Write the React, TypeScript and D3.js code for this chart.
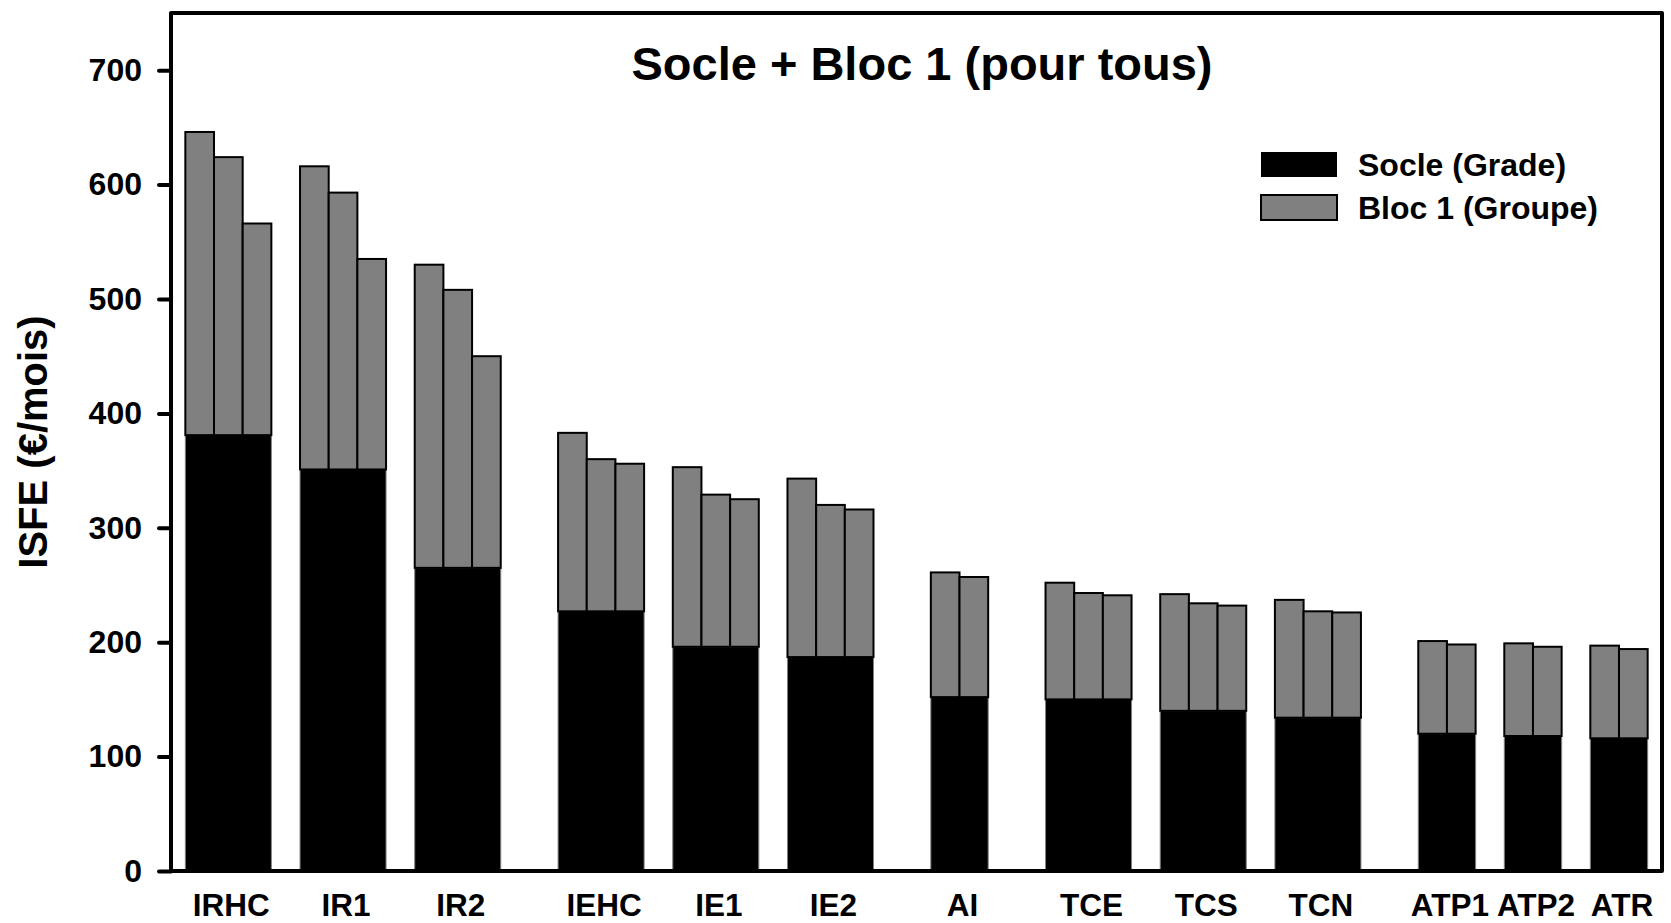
import React, { useEffect, useRef } from "react";
import * as d3 from "d3";

const groups = ["IRHC", "IR1", "IR2", "IEHC", "IE1", "IE2", "AI", "TCE", "TCS", "TCN", "ATP1", "ATP2", "ATR"];
const families = ["IR", "IR", "IR", "IE", "IE", "IE", "AI", "TC", "TC", "TC", "AT", "AT", "AT"];
// Socle (Grade) : one value per group, shared by its bars
const socle = [381, 351, 265, 227, 196, 187, 152, 150, 140, 134, 120, 118, 116];
// Bloc 1 (Groupe) : stacked on the socle, one value per bar
const bloc1 = [
  [265, 243, 185],
  [265, 242, 184],
  [265, 243, 185],
  [156, 133, 129],
  [157, 133, 129],
  [156, 133, 129],
  [109, 105],
  [102, 93, 91],
  [102, 94, 92],
  [103, 93, 92],
  [81, 78],
  [81, 78],
  [81, 78],
];
const yTicks = [0, 100, 200, 300, 400, 500, 600, 700];
const seriesNames = ["Socle (Grade)", "Bloc 1 (Groupe)"];
const title = "Socle + Bloc 1 (pour tous)";
const yLabel = "ISFE (€/mois)";

const W = 1671, H = 923;
const frame = { left: 171, right: 1662, top: 13, bottom: 871 };
const FONT = "'Liberation Sans', Arial, Helvetica, sans-serif";
const GREY = "#808080";

function App() {
  const ref = useRef(null);

  useEffect(() => {
    const svg = d3.select(ref.current);
    svg.selectAll("*").remove();

    // one band per bar, plus empty bands between groups (two between families)
    const slots = [];
    const bars = [];
    const groupSpans = [];
    groups.forEach((g, i) => {
      if (i > 0) {
        const gaps = families[i] === families[i - 1] ? 1 : 2;
        for (let k = 0; k < gaps; k++) slots.push(`gap-${i}-${k}`);
      }
      const keys = [];
      bloc1[i].forEach((b, j) => {
        const key = `${g}-${j}`;
        slots.push(key);
        keys.push(key);
        bars.push({ key, socle: socle[i], bloc: b });
      });
      groupSpans.push({ name: g, first: keys[0], last: keys[keys.length - 1], socle: socle[i] });
    });

    const x = d3.scaleBand().domain(slots).range([frame.left, frame.right]).paddingInner(0).paddingOuter(0.5);
    const y = d3.scaleLinear().domain([0, 750]).range([frame.bottom, frame.top]);
    const bw = x.bandwidth();

    // socle, drawn per group
    svg.append("g").selectAll("rect")
      .data(groupSpans)
      .enter()
      .append("rect")
      .attr("x", d => x(d.first))
      .attr("width", d => x(d.last) + bw - x(d.first))
      .attr("y", d => y(d.socle))
      .attr("height", d => y(0) - y(d.socle))
      .attr("fill", "#000")
      .attr("stroke", GREY)
      .attr("stroke-width", 1);

    // bloc 1 on top
    svg.append("g").selectAll("rect")
      .data(bars)
      .enter()
      .append("rect")
      .attr("x", d => x(d.key))
      .attr("width", bw)
      .attr("y", d => y(d.socle + d.bloc))
      .attr("height", d => y(d.socle) - y(d.socle + d.bloc))
      .attr("fill", GREY)
      .attr("stroke", "#000")
      .attr("stroke-width", 2);

    // frame
    svg.append("rect")
      .attr("x", frame.left)
      .attr("y", frame.top)
      .attr("width", frame.right - frame.left)
      .attr("height", frame.bottom - frame.top)
      .attr("fill", "none")
      .attr("stroke", "#000")
      .attr("stroke-width", 4)
      .attr("stroke-linejoin", "round");

    // y axis
    const yAxis = svg.append("g")
      .attr("transform", `translate(${frame.left},0)`)
      .call(d3.axisLeft(y).tickValues(yTicks).tickSize(12).tickPadding(17));
    yAxis.select(".domain").remove();
    yAxis.selectAll(".tick line")
      .attr("stroke", "#000")
      .attr("stroke-width", 4)
      .attr("stroke-linecap", "round");
    yAxis.selectAll(".tick text")
      .attr("fill", "#000")
      .attr("font-family", FONT)
      .attr("font-weight", "bold")
      .attr("font-size", 32);

    // category labels
    svg.append("g").selectAll("text")
      .data(groupSpans)
      .enter()
      .append("text")
      .attr("x", d => (x(d.first) + x(d.last) + bw) / 2 + 3)
      .attr("y", 916)
      .attr("text-anchor", "middle")
      .attr("font-family", FONT)
      .attr("font-weight", "bold")
      .attr("font-size", 31.5)
      .text(d => d.name);

    // title
    svg.append("text")
      .attr("x", 922)
      .attr("y", 80)
      .attr("text-anchor", "middle")
      .attr("font-family", FONT)
      .attr("font-weight", "bold")
      .attr("font-size", 47)
      .text(title);

    // y label
    svg.append("text")
      .attr("transform", "translate(47,442) rotate(-90)")
      .attr("text-anchor", "middle")
      .attr("font-family", FONT)
      .attr("font-weight", "bold")
      .attr("font-size", 40)
      .text(yLabel);

    // legend
    const legend = svg.append("g").selectAll("g")
      .data(seriesNames)
      .enter()
      .append("g")
      .attr("transform", (d, i) => `translate(1261,${152 + i * 43})`);
    legend.append("rect")
      .attr("width", 76)
      .attr("height", 25)
      .attr("fill", (d, i) => (i === 0 ? "#000" : GREY))
      .attr("stroke", "#000")
      .attr("stroke-width", (d, i) => (i === 0 ? 0 : 2));
    legend.append("text")
      .attr("x", 97)
      .attr("y", 24)
      .attr("font-family", FONT)
      .attr("font-weight", "bold")
      .attr("font-size", 32)
      .text(d => d);
  }, []);

  return (
    <div style={{ position: "absolute", left: 0, top: 0 }}>
      <svg ref={ref} width={W} height={H} style={{ display: "block", background: "#fff" }} />
    </div>
  );
}

export default App;
